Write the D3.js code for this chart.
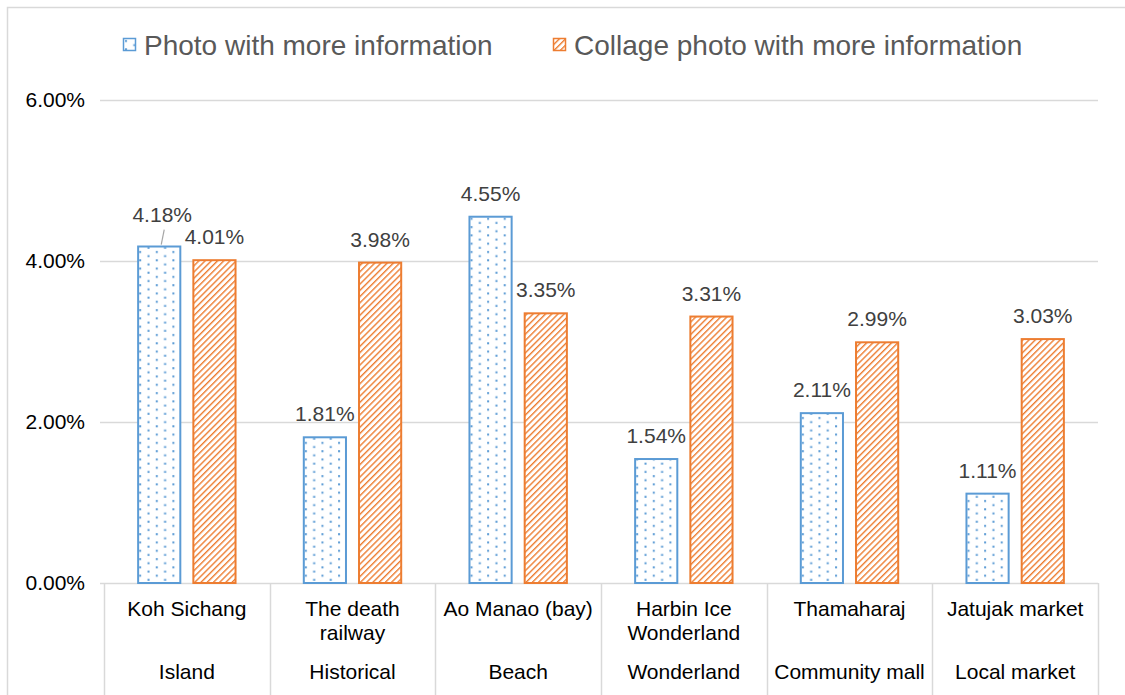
<!DOCTYPE html>
<html>
<head>
<meta charset="utf-8">
<script src="https://cdn.jsdelivr.net/npm/d3@7"></script>
<style>
  html, body { margin: 0; padding: 0; background: #fff; }
  svg { display: block; font-family: "Liberation Sans", Arial, sans-serif; }
</style>
</head>
<body>
<svg id="chart" width="1125" height="695"></svg>
<script>
// Places (first-level axis labels, may wrap onto two lines)
const places = [
  ["Koh Sichang"],
  ["The death", "railway"],
  ["Ao Manao (bay)"],
  ["Harbin Ice", "Wonderland"],
  ["Thamaharaj"],
  ["Jatujak market"]
];
// Place types (second-level axis labels)
const placeTypes = ["Island", "Historical", "Beach", "Wonderland", "Community mall", "Local market"];
// Series
const seriesNames = ["Photo with more information", "Collage photo with more information"];
const photoValues = [4.18, 1.81, 4.55, 1.54, 2.11, 1.11];
const collageValues = [4.01, 3.98, 3.35, 3.31, 2.99, 3.03];
const yTicks = [0, 2, 4, 6];

const svg = d3.select("#chart");
const W = 1125, H = 695;
const plot = { left: 104, right: 1098, top: 100, bottom: 583 };
const FS = 21;

// Patterns: dotted blue, diagonal-striped orange
const defs = svg.append("defs");
const dots = defs.append("pattern").attr("id", "dots")
  .attr("patternUnits", "userSpaceOnUse").attr("width", 16.6).attr("height", 8.3)
  .attr("x", 0).attr("y", 0);
dots.append("rect").attr("width", 16.6).attr("height", 8.3).attr("fill", "#fff");
dots.append("rect").attr("x", 2).attr("y", 2).attr("width", 2).attr("height", 2).attr("fill", "#5B9BD5");
dots.append("rect").attr("x", 10.3).attr("y", 6.15).attr("width", 2).attr("height", 2).attr("fill", "#5B9BD5");

const stripes = defs.append("pattern").attr("id", "stripes")
  .attr("patternUnits", "userSpaceOnUse").attr("width", 4.4).attr("height", 10)
  .attr("patternTransform", "rotate(45)");
stripes.append("rect").attr("width", 4.4).attr("height", 10).attr("fill", "#fff");
stripes.append("rect").attr("x", 0).attr("y", 0).attr("width", 1.4).attr("height", 10).attr("fill", "#ED7D31");

const colors = ["#5B9BD5", "#ED7D31"];
const fills = ["url(#dots)", "url(#stripes)"];

// Outer frame
svg.append("rect").attr("x", 7.5).attr("y", 7.5).attr("width", W).attr("height", H)
  .attr("fill", "none").attr("stroke", "#D9D9D9").attr("stroke-width", 1.5);

// Scales
const x0 = d3.scaleBand().domain(d3.range(places.length))
  .range([plot.left, plot.right]);
const bw = x0.bandwidth();
const x1 = d3.scaleBand().domain([0, 1]).range([bw * 0.2, bw * 0.8]).paddingInner(0.2);
const y = d3.scaleLinear().domain([0, 6]).range([plot.bottom, plot.top]);

// Gridlines
svg.append("g").selectAll("line").data(yTicks).join("line")
  .attr("x1", plot.left - 4).attr("x2", plot.right)
  .attr("y1", d => Math.round(y(d)) + 0.5).attr("y2", d => Math.round(y(d)) + 0.5)
  .attr("stroke", "#D9D9D9").attr("stroke-width", 1.3);

// Y axis labels
const yAxis = d3.axisLeft(y).tickValues(yTicks).tickSize(0).tickPadding(0)
  .tickFormat(d => d.toFixed(2) + "%");
const yg = svg.append("g").attr("transform", `translate(${plot.left - 19},0)`).call(yAxis);
yg.select(".domain").remove();
yg.selectAll("text").attr("font-size", FS).attr("fill", "#000")
  .attr("font-family", "Liberation Sans, Arial, sans-serif");

// Bars
const series = [photoValues, collageValues];
const groups = svg.append("g").selectAll("g").data(places).join("g")
  .attr("transform", (d, i) => `translate(${x0(i)},0)`);

groups.selectAll("rect").data((d, i) => series.map((s, k) => ({ k, v: s[i] })))
  .join("rect")
  .attr("x", d => x1(d.k) + 1)
  .attr("width", x1.bandwidth() - 2)
  .attr("y", d => y(d.v))
  .attr("height", d => y(0) - y(d.v))
  .attr("fill", d => fills[d.k])
  .attr("stroke", d => colors[d.k])
  .attr("stroke-width", 2);

// Value labels (the first one is lifted clear of its neighbour, with a leader line)
groups.each(function (p, i) {
  const g = d3.select(this);
  series.forEach((s, k) => {
    const v = s[i];
    const lifted = (k === 0 && i === 0);
    const cx = x1(k) + x1.bandwidth() / 2 + (lifted ? 3 : 0);
    g.append("text")
      .attr("x", cx).attr("y", y(v) + (lifted ? -25 : -16))
      .attr("text-anchor", "middle").attr("font-size", FS).attr("fill", "#404040")
      .text(v.toFixed(2) + "%");
    if (lifted) {
      g.append("line")
        .attr("x1", cx + 2).attr("y1", y(v) - 17)
        .attr("x2", cx - 1).attr("y2", y(v) - 2)
        .attr("stroke", "#A6A6A6").attr("stroke-width", 1.2);
    }
  });
});

// Category axis separators
const bounds = d3.range(places.length + 1).map(i => i < places.length ? x0(i) : plot.right);
svg.append("g").selectAll("line").data(bounds).join("line")
  .attr("x1", d => Math.round(d) + 0.5).attr("x2", d => Math.round(d) + 0.5)
  .attr("y1", plot.bottom).attr("y2", H)
  .attr("stroke", "#D9D9D9").attr("stroke-width", 1.5);

// First-level labels
groups.append("text")
  .attr("x", bw / 2).attr("y", 616)
  .attr("text-anchor", "middle").attr("font-size", FS).attr("fill", "#000")
  .selectAll("tspan").data(d => d).join("tspan")
  .attr("x", bw / 2).attr("dy", (d, j) => j === 0 ? 0 : 24)
  .text(d => d);

// Second-level labels
groups.append("text")
  .attr("x", bw / 2).attr("y", 679)
  .attr("text-anchor", "middle").attr("font-size", FS).attr("fill", "#000")
  .text((d, i) => placeTypes[i]);

// Legend
const legendX = [123, 553];
const legend = svg.append("g").selectAll("g").data(seriesNames).join("g")
  .attr("transform", (d, i) => `translate(${legendX[i]},38)`);
legend.append("rect").attr("x", 0.5).attr("y", 0.5).attr("width", 12).attr("height", 12)
  .attr("fill", (d, i) => fills[i]).attr("stroke", (d, i) => colors[i]).attr("stroke-width", 1.5);
legend.append("text").attr("x", 21).attr("y", 17)
  .attr("font-size", 28).attr("fill", "#595959").text(d => d);
</script>
</body>
</html>
